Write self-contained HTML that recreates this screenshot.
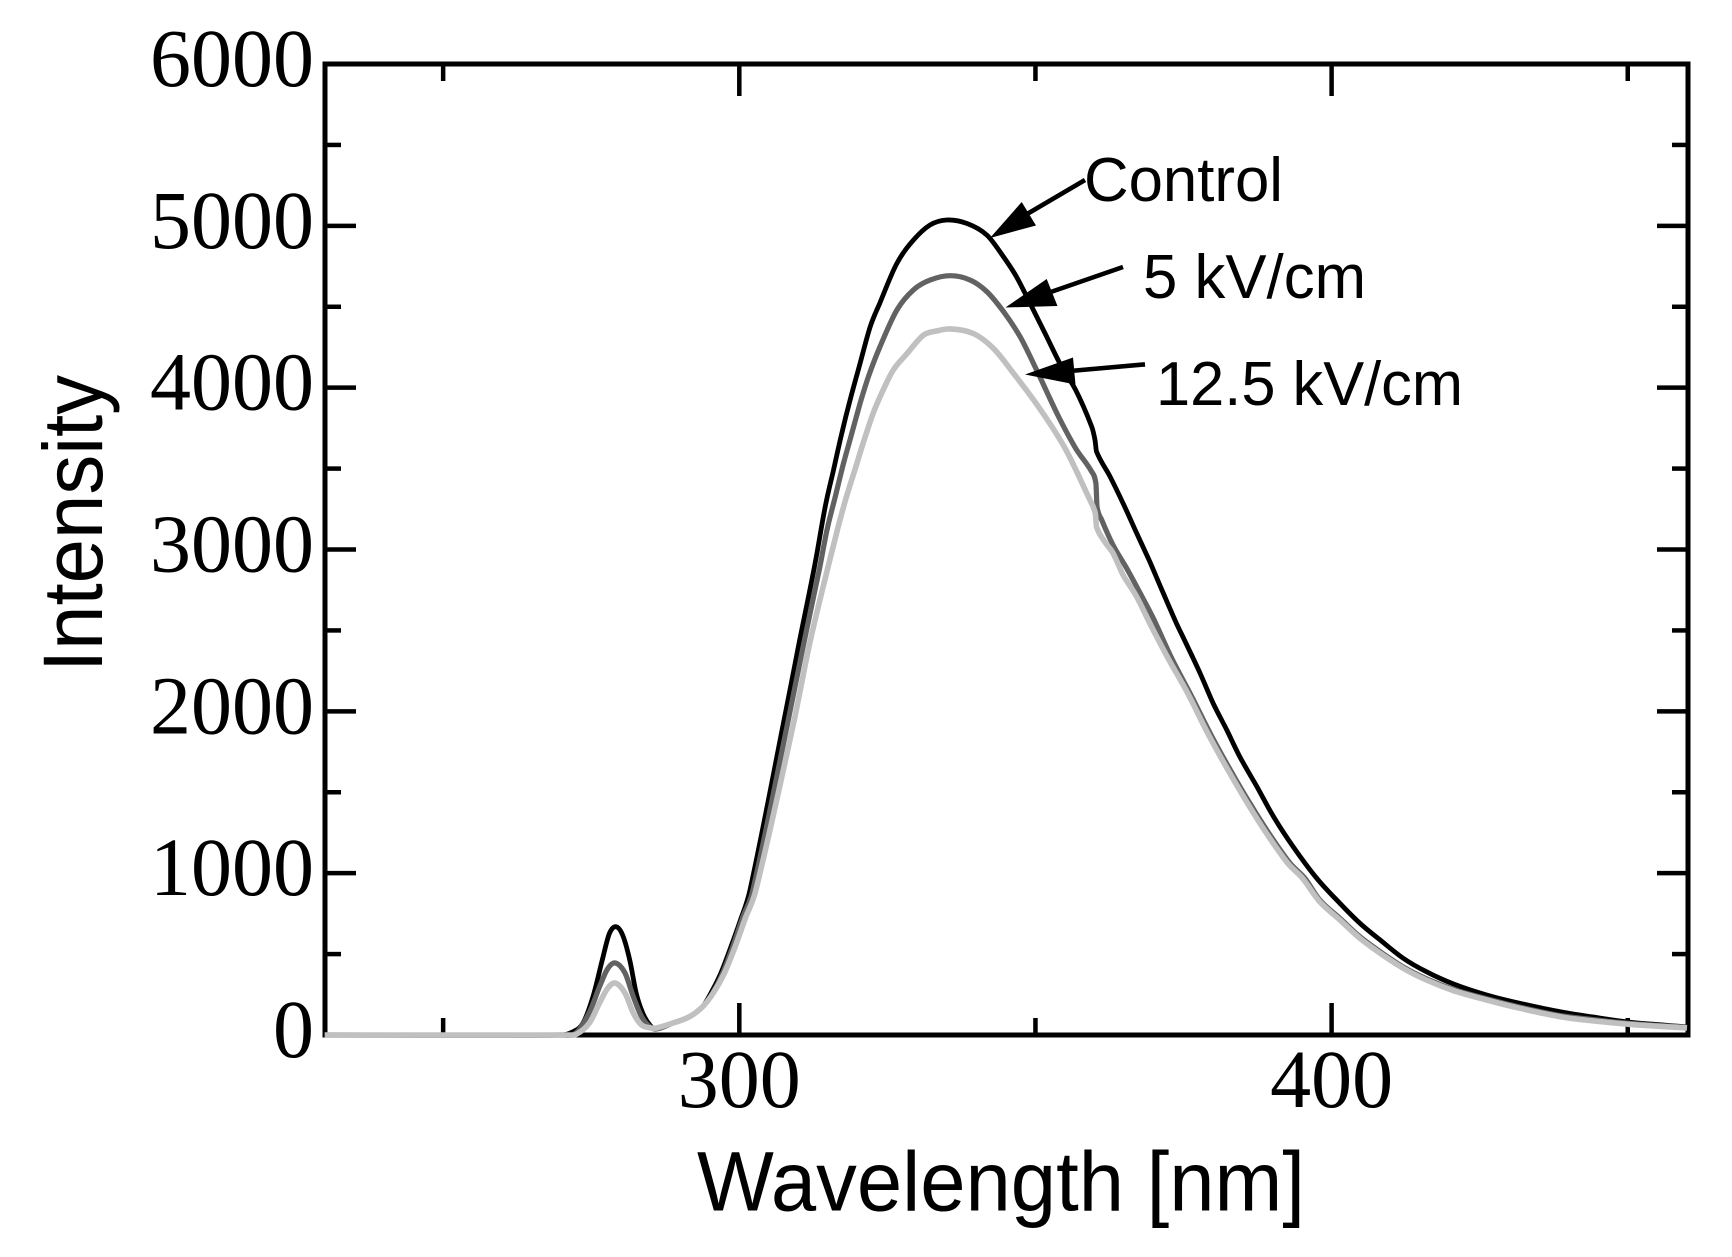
<!DOCTYPE html>
<html lang="en">
<head>
<meta charset="utf-8">
<title>Fluorescence intensity vs wavelength</title>
<style>
html,body{margin:0;padding:0;background:#fff;}
svg{display:block;}
</style>
</head>
<body>
<svg id="chart" xmlns="http://www.w3.org/2000/svg" width="1732" height="1257" viewBox="0 0 1732 1257">
  <rect x="0" y="0" width="1732" height="1257" fill="#fff"/>
  <g id="ticks"></g>
  <g id="tick-labels"></g>
  <rect x="325" y="64" width="1363" height="971" fill="none" stroke="#000" stroke-width="5"/>
  <g id="series"></g>

  <text x="697" y="1210.5" font-family="'Liberation Sans',Arial,sans-serif" font-size="84" textLength="608" lengthAdjust="spacingAndGlyphs">Wavelength [nm]</text>
  <text transform="translate(102,672) rotate(-90)" x="0" y="0" font-family="'Liberation Sans',Arial,sans-serif" font-size="84" textLength="297" lengthAdjust="spacingAndGlyphs">Intensity</text>

  <g>
    <line x1="1085" y1="180" x2="1022" y2="217" stroke="#000" stroke-width="4.6"/>
    <polygon points="990,238 1021.7,202 1036,225.5"/>
    <text x="1084" y="201" font-family="'Liberation Sans',Arial,sans-serif" font-size="62" textLength="199" lengthAdjust="spacingAndGlyphs">Control</text>
  </g>
  <g>
    <line x1="1123" y1="267" x2="1045" y2="294" stroke="#000" stroke-width="4.6"/>
    <polygon points="1005.5,307.5 1046.7,279 1057.5,306"/>
    <text x="1143" y="298" font-family="'Liberation Sans',Arial,sans-serif" font-size="62" textLength="223" lengthAdjust="spacingAndGlyphs">5 kV/cm</text>
  </g>
  <g>
    <line x1="1145" y1="364.4" x2="1070" y2="371" stroke="#000" stroke-width="4.6"/>
    <polygon points="1025,374.5 1073,357.5 1075.5,384.5"/>
    <text x="1156" y="405" font-family="'Liberation Sans',Arial,sans-serif" font-size="62" textLength="307" lengthAdjust="spacingAndGlyphs">12.5 kV/cm</text>
  </g>
</svg>
<script>
const xMajorTicks = [300, 400];
const xMinorTicks = [250, 350, 450];
const yMajorTicks = [0, 1000, 2000, 3000, 4000, 5000, 6000];
const yMinorTicks = [500, 1500, 2500, 3500, 4500, 5500];

const controlWavelength = [230,270,271.9,273.6,275.3,277,278.1,279.2,280.3,281.5,282.6,283.7,284.9,286,288.8,291.6,293.8,295.2,296.9,298.6,300.1,301.8,307.4,310.1,312.8,314.5,315.9,317.3,318.7,320.4,322.1,323.7,326.6,329.4,332.2,335,338.4,341.8,344.6,346.8,349.1,351.9,354.4,356.8,359.5,360.05,360.3,362.6,364.8,367.1,369.3,371.6,373.8,375.3,377.8,380,382.3,384.5,387.4,390.2,393.5,397.5,401.4,404.8,408.2,412.1,416,420.6,426.2,431.8,438.6,444,450.2,460];
const controlIntensity = [0,0,20,72,237,484,630,669,618,464,258,135,62,37,74,113,175,259,383,546,700,896,1916,2423,2915,3264,3491,3718,3924,4151,4377,4521,4768,4912,5005,5036,5015,4943,4809,4685,4521,4315,4130,3985,3759,3677,3605,3450,3285,3100,2925,2729,2544,2430,2235,2050,1885,1720,1534,1349,1164,968,814,690,587,474,391,315,247,196,144,112,80,50];

const kv5Wavelength = [230,270,272.5,274.7,276.4,277.8,279.1,280.7,282.1,283.5,284.9,286,288.8,291.6,293.8,295.5,297.2,298.9,300.6,302.3,308.1,310.9,313.6,314.8,316.2,317.6,319,320.4,321.8,323.6,326.6,329.4,332.2,335.6,339,341.8,344.6,347.4,350.2,353.9,356.8,359.5,360.2,360.4,361.2,363.1,365.4,367.7,369.9,373,376.1,379.5,382.9,386.2,389.6,393,395.5,398,401.4,404.8,408.2,412.1,416,420.6,426.2,431.8,438.6,444,450.2,460];
const kv5Intensity = [0,0,15,140,298,411,445,383,237,113,51,37,74,113,175,259,383,546,730,896,1916,2423,2894,3121,3327,3533,3718,3904,4068,4240,4480,4604,4665,4692,4665,4593,4470,4315,4109,3822,3625,3481,3409,3265,3182,3028,2884,2729,2575,2328,2112,1864,1638,1432,1236,1061,968,834,721,607,515,420,348,282,224,172,120,96,72,47];

const kv12Wavelength = [230,271,272.5,274.7,276.4,277.8,279.1,280.7,282.1,283.5,285.2,286,288.8,291.6,293.8,295.6,297.5,299.3,301,302.8,309.1,311.9,315,316.7,318.1,319.5,320.9,322.6,324.3,326,328.3,331.1,333.3,335.6,339.5,342.9,346.3,350.7,355,359.2,360.1,360.3,361.7,363.1,364.8,367.1,369.3,372.4,375.7,379.1,382.5,385.8,389.2,392.6,395.1,398,401.4,404.8,408.2,412.1,416,420.6,426.2,431.8,438.6,444,450.2,460];
const kv12Intensity = [0,0,5,74,198,290,321,259,136,62,43,43,74,113,175,259,383,546,720,896,1916,2423,2894,3141,3327,3491,3656,3842,3986,4109,4210,4325,4350,4363,4335,4243,4089,3872,3625,3306,3224,3141,3048,2977,2842,2708,2544,2328,2112,1864,1638,1432,1236,1061,968,824,711,597,505,412,340,274,216,165,113,88,66,44];

const SVG_NS = 'http://www.w3.org/2000/svg';
const xAt = function (nm) { return 739.3 + (nm - 300) * 5.923; };
const yAt = function (v) { return 1035 - v * 0.16183; };

/* Smooth Catmull-Rom path through the series values. */
const pathFrom = function (xs, ys) {
  const pts = xs.map(function (x, i) { return [xAt(x), yAt(ys[i])]; });
  let d = 'M' + pts[0][0].toFixed(1) + ',' + pts[0][1].toFixed(1);
  for (let i = 0; i < pts.length - 1; i++) {
    const p0 = pts[Math.max(i - 1, 0)];
    const p1 = pts[i];
    const p2 = pts[i + 1];
    const p3 = pts[Math.min(i + 2, pts.length - 1)];
    const seg = p2[0] - p1[0];
    const s1 = (p2[1] - p0[1]) / Math.max(p2[0] - p0[0], 0.01);
    const s2 = (p3[1] - p1[1]) / Math.max(p3[0] - p1[0], 0.01);
    const c1x = p1[0] + seg / 3;
    const c1y = p1[1] + s1 * seg / 3;
    const c2x = p2[0] - seg / 3;
    const c2y = p2[1] - s2 * seg / 3;
    d += 'C' + c1x.toFixed(1) + ',' + c1y.toFixed(1) + ' ' + c2x.toFixed(1) + ',' + c2y.toFixed(1) + ' ' + p2[0].toFixed(1) + ',' + p2[1].toFixed(1);
  }
  return d;
};

const tickGroup = document.getElementById('ticks');
const labelGroup = document.getElementById('tick-labels');

function addTick(x1, y1, x2, y2) {
  const t = document.createElementNS(SVG_NS, 'line');
  
  
  t.setAttribute('x1', x1);
  t.setAttribute('y1', y1);
  t.setAttribute('x2', x2);
  t.setAttribute('y2', y2);
  t.setAttribute('stroke', '#000');
  t.setAttribute('stroke-width', '4.5');
  tickGroup.appendChild(t);
}
function addLabel(txt, x, y, anchor, len) {
  const l = document.createElementNS(SVG_NS, 'text');
  
  
  l.setAttribute('x', x);
  l.setAttribute('y', y);
  l.setAttribute('font-family', "'Liberation Serif','Times New Roman',serif");
  l.setAttribute('font-size', '83');
  l.setAttribute('text-anchor', anchor);
  l.setAttribute('textLength', len);
  l.setAttribute('lengthAdjust', 'spacingAndGlyphs');
  l.textContent = txt;
  labelGroup.appendChild(l);
}

xMajorTicks.forEach(function (v) {
  addTick(xAt(v), 1035, xAt(v), 1003);
  addTick(xAt(v), 64, xAt(v), 96);
  addLabel(String(v), xAt(v), 1107, 'middle', String(v).length * 41);
});
xMinorTicks.forEach(function (v) {
  addTick(xAt(v), 1035, xAt(v), 1018);
  addTick(xAt(v), 64, xAt(v), 81);
});
yMajorTicks.forEach(function (v) {
  addTick(325, yAt(v), 356, yAt(v));
  addTick(1688, yAt(v), 1657, yAt(v));
  addLabel(String(v), 314, yAt(v) + 22, 'end', String(v).length * 41);
});
yMinorTicks.forEach(function (v) {
  addTick(325, yAt(v), 341, yAt(v));
  addTick(1688, yAt(v), 1672, yAt(v));
});

const seriesGroup = document.getElementById('series');
function addSeries(name, xs, ys, color, width) {
  const p = document.createElementNS(SVG_NS, 'path');
  
  
  p.setAttribute('d', pathFrom(xs, ys));
  p.setAttribute('fill', 'none');
  p.setAttribute('stroke', color);
  p.setAttribute('stroke-width', width);
  p.setAttribute('stroke-linejoin', 'round');
  seriesGroup.appendChild(p);
}
addSeries('control-line', controlWavelength, controlIntensity, '#000000', 4.8);
addSeries('5-kv-per-cm-line', kv5Wavelength, kv5Intensity, '#626262', 5.2);
addSeries('12-5-kv-per-cm-line', kv12Wavelength, kv12Intensity, '#c0c0c0', 5.6);
</script>
</body>
</html>
